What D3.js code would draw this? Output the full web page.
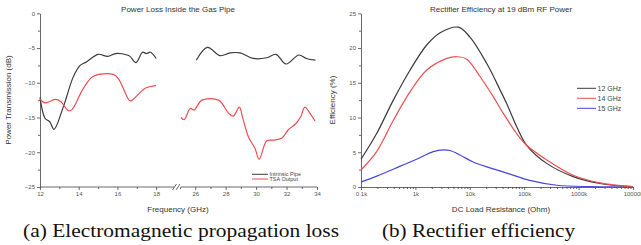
<!DOCTYPE html>
<html>
<head>
  <meta charset="utf-8" />
  <script src="https://d3js.org/d3.v7.min.js"></script>
</head>
<style>
body { margin: 0; background: #fff; }
svg text { font-family: 'Liberation Sans', Arial, sans-serif; }
.tick text { fill: #555; font-size: 6px; }
.axis path, .axis line { stroke: #444; stroke-width: 0.8px; }
.caption { font-family: 'Liberation Serif', 'Times New Roman', serif !important; font-size: 18px; fill: #111; }
</style>
<body>
<div id="viz"></div>
<script>
'use strict';

// (a) power loss, two frequency segments
const freqA1 = [12, 12.26, 12.5, 12.72, 13.2, 13.72, 14.07, 14.4, 15.0, 15.5, 15.9, 16.5, 16.65, 16.96, 17.3, 17.5, 17.7, 18.0];
const pipeA1 = [-12.1, -15.1, -15.6, -16.7, -13.5, -9.15, -7.5, -7.0, -5.9, -6.2, -5.8, -6.0, -6.2, -7.1, -5.6, -5.8, -5.6, -6.5];
const freqB1 = [12, 12.26, 12.78, 13.07, 13.46, 13.64, 14.24, 14.76, 15.79, 16.05, 16.6, 16.7, 17.43, 17.95, 18.0];
const tsaA1 = [-12.3, -12.9, -12.4, -12.7, -14.0, -13.9, -10.8, -9.05, -8.8, -9.4, -12.5, -12.6, -10.8, -10.4, -10.4];

const freqA2 = [26.07, 26.8, 27.64, 28.3, 28.95, 29.8, 30.7, 31.3, 31.97, 32.8, 33.3, 33.9];
const pipeA2 = [-6.75, -4.9, -6.1, -5.7, -5.7, -6.5, -6.4, -5.9, -7.3, -6.0, -6.5, -6.75];
const freqB2 = [25.06, 25.28, 25.67, 25.93, 26.44, 27.53, 28.2, 28.5, 28.9, 29.1, 29.5, 29.93, 30.2, 30.7, 31.13, 31.68, 32.1, 32.6, 32.93, 33.2, 33.54, 33.87];
const tsaA2 = [-15.0, -15.3, -13.7, -13.9, -12.5, -12.5, -14.4, -14.8, -13.5, -14.9, -17.8, -19.45, -21.0, -18.35, -18.25, -18.0, -16.8, -15.9, -14.9, -13.5, -14.4, -15.5];

const ticksA1 = [12, 14, 16, 18];
const ticksA2 = [26, 28, 30, 32, 34];
const ticksAy = [0, -5, -10, -15, -20, -25];

// (b) rectifier efficiency vs load (ohm)
const load12 = [100, 194, 393, 795, 1600, 2850, 6150, 10000, 20400, 35900, 47600, 72600, 111000, 259000, 795000, 2470000, 10000000];
const eff12 = [4.0, 7.7, 12.5, 16.8, 20.4, 22.2, 23.0, 21.6, 17.8, 14.0, 12.0, 8.7, 6.0, 3.4, 1.5, 0.5, 0.05];
const load14 = [100, 194, 393, 795, 1600, 3260, 5720, 8770, 15400, 27000, 41300, 72600, 111000, 259000, 795000, 2470000, 10000000];
const eff14 = [2.45, 5.1, 9.6, 13.7, 16.8, 18.3, 18.75, 18.4, 15.9, 13.0, 10.6, 7.7, 6.0, 3.9, 1.7, 0.6, 0.05];
const load15 = [100, 200, 400, 1050, 2130, 3300, 4330, 6600, 11500, 23500, 55000, 126000, 400000, 1600000, 10000000];
const eff15 = [0.7, 1.6, 2.6, 4.0, 5.1, 5.35, 5.25, 4.6, 3.6, 2.75, 1.85, 0.95, 0.25, 0.05, 0.02];
const ticksBx = [1e2, 1e3, 1e4, 1e5, 1e6, 1e7];
const ticksBy = [0, 5, 10, 15, 20, 25];

const cBlack = '#3a3a3a';
const cRed = '#ec4f52';
const cBlue = '#4646dc';

const svg = d3.select('#viz').append('svg')
  .attr('width', 641).attr('height', 245);

// ---------- chart (a) ----------
const xA1 = d3.scaleLinear().domain([12, 19]).range([40, 175.5]);
const xA2 = d3.scaleLinear().domain([25, 34]).range([180, 317]);
const yA = d3.scaleLinear().domain([-25, 0]).range([187, 13.3]);

const ga = svg.append('g');

// y axis
ga.append('g').attr('class', 'axis').attr('transform', 'translate(40,0)')
  .call(d3.axisLeft(yA).tickValues(ticksAy).tickSize(3).tickPadding(2).tickSizeOuter(0));
ga.append('g').attr('class', 'axis').attr('transform', 'translate(40,0)')
  .call(d3.axisLeft(yA).tickValues(d3.range(-22.5, 0, 5)).tickSize(2).tickFormat('').tickSizeOuter(0))
  .select('.domain').remove();

// x axis, broken
ga.append('g').attr('class', 'axis').attr('transform', 'translate(0,187)')
  .call(d3.axisBottom(xA1).tickValues(ticksA1).tickSize(3).tickPadding(2).tickSizeOuter(0).tickFormat(d3.format('d')))
  .call(g => g.select('.domain').attr('d', 'M40,0H174'));
ga.append('g').attr('class', 'axis').attr('transform', 'translate(0,187)')
  .call(d3.axisBottom(xA1).tickValues([13, 15, 17]).tickSize(2).tickFormat('').tickSizeOuter(0))
  .select('.domain').remove();
ga.append('g').attr('class', 'axis').attr('transform', 'translate(0,187)')
  .call(d3.axisBottom(xA2).tickValues(ticksA2).tickSize(3).tickPadding(2).tickSizeOuter(0).tickFormat(d3.format('d')))
  .call(g => g.select('.domain').attr('d', 'M181,0H317'));
ga.append('g').attr('class', 'axis').attr('transform', 'translate(0,187)')
  .call(d3.axisBottom(xA2).tickValues([25, 27, 29, 31, 33]).tickSize(2).tickFormat('').tickSizeOuter(0))
  .select('.domain').remove();
// break marks
[174.5, 178].forEach(bx => {
  ga.append('line').attr('x1', bx - 2).attr('y1', 190).attr('x2', bx + 2).attr('y2', 184)
    .attr('stroke', '#444').attr('stroke-width', 0.8);
});

const lineA = (xs, xsc, ys) => d3.line().curve(d3.curveCatmullRom.alpha(0.5))
  .x((d, i) => xsc(xs[i])).y(d => yA(d))(ys);

[[freqA1, xA1, pipeA1, cBlack], [freqA2, xA2, pipeA2, cBlack],
 [freqB1, xA1, tsaA1, cRed], [freqB2, xA2, tsaA2, cRed]].forEach(([xs, xsc, ys, c]) => {
  ga.append('path').attr('d', lineA(xs, xsc, ys))
    .attr('fill', 'none').attr('stroke', c).attr('stroke-width', 1.2);
});

// legend (a)
[['Intrinsic Pipe', cBlack, 174.3], ['TSA Output', cRed, 179]].forEach(([t, c, ly]) => {
  ga.append('line').attr('x1', 252).attr('x2', 268).attr('y1', ly).attr('y2', ly)
    .attr('stroke', c).attr('stroke-width', 1);
  ga.append('text').attr('x', 269.5).attr('y', ly + 2).attr('font-size', 5.5).attr('fill', '#444').text(t);
});

ga.append('text').attr('x', 178).attr('y', 12).attr('text-anchor', 'middle')
  .attr('font-size', 8).attr('fill', '#333').text('Power Loss Inside the Gas Pipe');
ga.append('text').attr('x', 178).attr('y', 212).attr('text-anchor', 'middle')
  .attr('font-size', 8).attr('fill', '#333').text('Frequency (GHz)');
ga.append('text').attr('transform', 'translate(11,100) rotate(-90)').attr('text-anchor', 'middle')
  .attr('font-size', 8).attr('fill', '#333').text('Power Transmission (dB)');

// ---------- chart (b) ----------
const xB = d3.scaleLog().domain([1e2, 1e7]).range([361, 633]);
const yB = d3.scaleLinear().domain([0, 25]).range([187, 13.3]);
const gb = svg.append('g');

gb.append('g').attr('class', 'axis').attr('transform', 'translate(361,0)')
  .call(d3.axisLeft(yB).tickValues(ticksBy).tickSize(3).tickPadding(2).tickSizeOuter(0));
gb.append('g').attr('class', 'axis').attr('transform', 'translate(361,0)')
  .call(d3.axisLeft(yB).tickValues(d3.range(2.5, 25, 5)).tickSize(2).tickFormat('').tickSizeOuter(0))
  .select('.domain').remove();

const minorB = [];
for (let e = 2; e < 7; e++) for (let m = 2; m < 10; m++) minorB.push(m * Math.pow(10, e));
gb.append('g').attr('class', 'axis').attr('transform', 'translate(0,187)')
  .call(d3.axisBottom(xB).tickValues(ticksBx).tickSize(3).tickPadding(2).tickSizeOuter(0)
    .tickFormat(d => (d / 1000) + 'k'));
gb.append('g').attr('class', 'axis').attr('transform', 'translate(0,187)')
  .call(d3.axisBottom(xB).tickValues(minorB).tickSize(2).tickFormat('').tickSizeOuter(0))
  .select('.domain').remove();

const lineB = (xs, ys) => d3.line().curve(d3.curveCatmullRom.alpha(0.5))
  .x((d, i) => xB(xs[i])).y(d => yB(d))(ys);

[[load15, eff15, cBlue], [load12, eff12, cBlack], [load14, eff14, cRed]].forEach(([xs, ys, c]) => {
  gb.append('path').attr('d', lineB(xs, ys))
    .attr('fill', 'none').attr('stroke', c).attr('stroke-width', 1.2);
});

[['12 GHz', cBlack, 88.3], ['14 GHz', cRed, 98.3], ['15 GHz', cBlue, 108.3]].forEach(([t, c, ly]) => {
  gb.append('line').attr('x1', 577).attr('x2', 596).attr('y1', ly).attr('y2', ly)
    .attr('stroke', c).attr('stroke-width', 1);
  gb.append('text').attr('x', 597.5).attr('y', ly + 2.5).attr('font-size', 7).attr('fill', '#444').text(t);
});

gb.append('text').attr('x', 501).attr('y', 12).attr('text-anchor', 'middle')
  .attr('font-size', 8).attr('fill', '#333').text('Rectifier Efficiency at 19 dBm RF Power');
gb.append('text').attr('x', 501).attr('y', 212).attr('text-anchor', 'middle')
  .attr('font-size', 8).attr('fill', '#333').text('DC Load Resistance (Ohm)');
gb.append('text').attr('transform', 'translate(335,100) rotate(-90)').attr('text-anchor', 'middle')
  .attr('font-size', 8).attr('fill', '#333').text('Efficiency (%)');

// captions (the source figure is stretched horizontally)
svg.append('text').attr('class', 'caption').attr('x', 23).attr('y', 237)
  .attr('textLength', 316).attr('lengthAdjust', 'spacingAndGlyphs')
  .text('(a) Electromagnetic propagation loss');
svg.append('text').attr('class', 'caption').attr('x', 382).attr('y', 237)
  .attr('textLength', 193).attr('lengthAdjust', 'spacingAndGlyphs')
  .text('(b) Rectifier efficiency');
</script>
</body>
</html>
